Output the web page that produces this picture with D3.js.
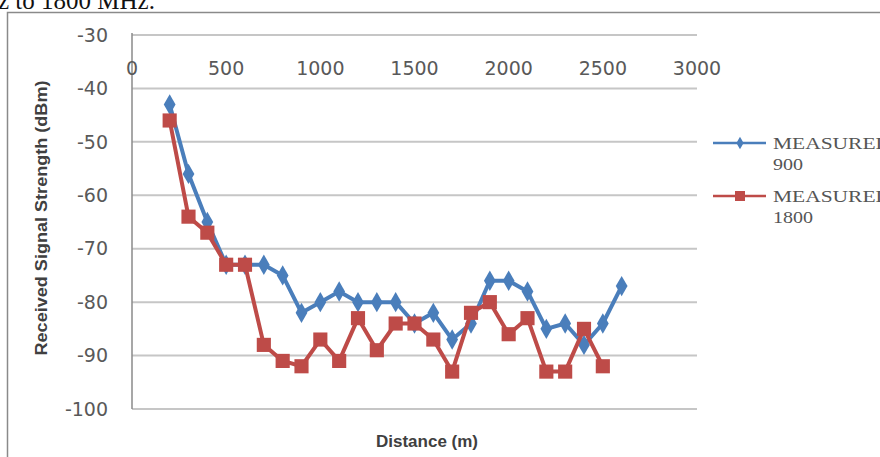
<!DOCTYPE html>
<html lang="en">
<head>
  <meta charset="utf-8">
  <script src="https://d3js.org/d3.v7.min.js"></script>
  <style>
    body {
      margin: 0;
      background: #fff;
      overflow: hidden;
    }
    .tick-label {
      font-family: "DejaVu Sans", Verdana, sans-serif;
      font-size: 19px;
      fill: #595959;
    }
    .axis-title {
      font-family: "Liberation Sans", Arial, sans-serif;
      font-weight: bold;
      fill: #404040;
    }
    .grid line {
      stroke: #c6c6c6;
      stroke-width: 2;
    }
    .legend-text {
      font-family: "Liberation Serif", "Times New Roman", serif;
      font-size: 16px;
      fill: #555;
    }
  </style>
</head>
<body>
  <svg id="chart" width="880" height="457"></svg>
  <script>
    // distance in metres
    var distance900 = [200, 300, 400, 500, 600, 700, 800, 900, 1000, 1100, 1200, 1300, 1400,
                       1500, 1600, 1700, 1800, 1900, 2000, 2100, 2200, 2300, 2400, 2500, 2600];
    var measured900 = [-43, -56, -65, -73, -73, -73, -75, -82, -80, -78, -80, -80, -80,
                       -84, -82, -87, -84, -76, -76, -78, -85, -84, -88, -84, -77];

    var distance1800 = [200, 300, 400, 500, 600, 700, 800, 900, 1000, 1100, 1200, 1300, 1400,
                        1500, 1600, 1700, 1800, 1900, 2000, 2100, 2200, 2300, 2400, 2500];
    var measured1800 = [-46, -64, -67, -73, -73, -88, -91, -92, -87, -91, -83, -89, -84,
                        -84, -87, -93, -82, -80, -86, -83, -93, -93, -85, -92];

    var xTicks = [0, 500, 1000, 1500, 2000, 2500, 3000];
    var yTicks = [-30, -40, -50, -60, -70, -80, -90, -100];

    var seriesNames = [["MEASURED", "900"], ["MEASURED", "1800"]];
    var seriesColors = ["#4a7ebb", "#be4b48"];

    var svg = d3.select("#chart");

    var x = d3.scaleLinear().domain([0, 3000]).range([132, 697]);
    var y = d3.scaleLinear().domain([-100, -30]).range([409, 35]);

    // bit of the document text above the chart
    svg.append("text")
      .attr("x", -2)
      .attr("y", 9)
      .style("font-family", "'Liberation Serif', serif")
      .style("font-size", "25px")
      .style("fill", "#111")
      .text("z to 1800 MHz.");

    // chart area border
    svg.append("rect")
      .attr("x", 7.5)
      .attr("y", 12.5)
      .attr("width", 950)
      .attr("height", 600)
      .attr("fill", "none")
      .attr("stroke", "#8a8a8a")
      .attr("stroke-width", 1.5);

    // horizontal gridlines
    svg.append("g")
      .attr("class", "grid")
      .selectAll("line")
      .data(yTicks)
      .enter().append("line")
        .attr("x1", x(0))
        .attr("x2", x(3000))
        .attr("y1", function(d) { return y(d); })
        .attr("y2", function(d) { return y(d); });

    // vertical axis line
    svg.append("line")
      .attr("x1", x(0)).attr("x2", x(0))
      .attr("y1", y(-30) - 2).attr("y2", y(-100))
      .attr("stroke", "#8a8a8a")
      .attr("stroke-width", 1.5);

    // y tick labels
    svg.append("g")
      .selectAll("text")
      .data(yTicks)
      .enter().append("text")
        .attr("class", "tick-label")
        .attr("x", 108)
        .attr("y", function(d) { return y(d); })
        .attr("dy", "0.35em")
        .attr("text-anchor", "end")
        .text(function(d) { return d; });

    // x tick labels (the axis crosses at the top)
    svg.append("g")
      .selectAll("text")
      .data(xTicks)
      .enter().append("text")
        .attr("class", "tick-label")
        .attr("x", function(d) { return x(d); })
        .attr("y", 68)
        .attr("dy", "0.35em")
        .attr("text-anchor", "middle")
        .text(function(d) { return d; });

    // axis titles
    svg.append("text")
      .attr("class", "axis-title")
      .attr("transform", "translate(47,218) rotate(-90)")
      .attr("text-anchor", "middle")
      .attr("textLength", 275)
      .attr("lengthAdjust", "spacingAndGlyphs")
      .style("font-size", "17px")
      .text("Received Signal Strength (dBm)");

    svg.append("text")
      .attr("class", "axis-title")
      .attr("x", 427)
      .attr("y", 447)
      .attr("text-anchor", "middle")
      .style("font-size", "17px")
      .text("Distance (m)");

    var line = d3.line()
      .x(function(d) { return x(d[0]); })
      .y(function(d) { return y(d[1]); });

    var diamond = d3.symbol().type(d3.symbolDiamond).size(120);
    var square = d3.symbol().type(d3.symbolSquare).size(200);

    var series = [
      { pts: d3.zip(distance900, measured900), color: seriesColors[0], sym: diamond },
      { pts: d3.zip(distance1800, measured1800), color: seriesColors[1], sym: square }
    ];

    series.forEach(function(s) {
      svg.append("path")
        .datum(s.pts)
        .attr("fill", "none")
        .attr("stroke", s.color)
        .attr("stroke-width", 4)
        .attr("stroke-linejoin", "round")
        .attr("d", line);

      svg.append("g")
        .selectAll("path")
        .data(s.pts)
        .enter().append("path")
          .attr("transform", function(d) { return "translate(" + x(d[0]) + "," + y(d[1]) + ")"; })
          .attr("d", s.sym)
          .attr("fill", s.color);
    });

    // legend
    var legendY = [143, 196];
    var legend = svg.append("g");
    series.forEach(function(s, i) {
      var g = legend.append("g").attr("transform", "translate(0," + legendY[i] + ")");
      g.append("line")
        .attr("x1", 713).attr("x2", 766)
        .attr("stroke", s.color)
        .attr("stroke-width", 2.5);
      g.append("path")
        .attr("transform", "translate(740,0)")
        .attr("d", i == 0 ? d3.symbol().type(d3.symbolDiamond).size(45)() : d3.symbol().type(d3.symbolSquare).size(100)())
        .attr("fill", s.color);
      g.append("text")
        .attr("class", "legend-text")
        .attr("x", 773)
        .attr("y", 6)
        .attr("textLength", 118)
        .attr("lengthAdjust", "spacingAndGlyphs")
        .text(seriesNames[i][0]);
      g.append("text")
        .attr("class", "legend-text")
        .attr("x", 773)
        .attr("y", 27)
        .attr("textLength", i == 0 ? 30 : 40)
        .attr("lengthAdjust", "spacingAndGlyphs")
        .text(seriesNames[i][1]);
    });
  </script>
</body>
</html>
